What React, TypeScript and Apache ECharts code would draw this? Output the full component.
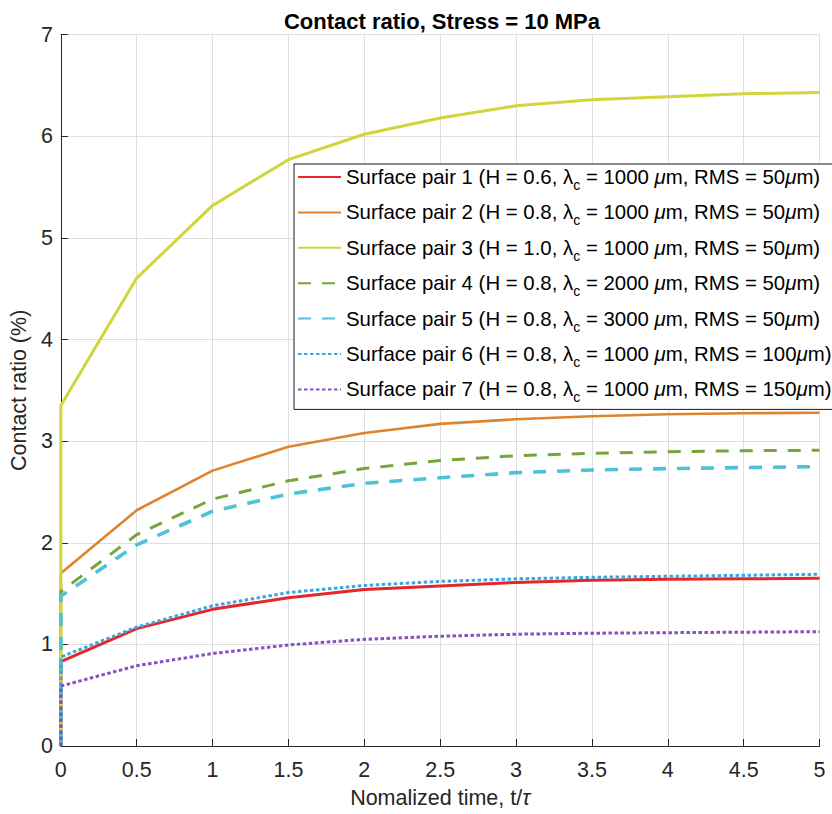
import React, { useEffect, useRef } from "react";
import * as echarts from "echarts";

// Normalized time t/τ (first sample is the initial state at t = 0 with zero contact)
const TIME = [0, 0, 0.5, 1, 1.5, 2, 2.5, 3, 3.5, 4, 4.5, 5];

const PAIR1 = [0, 0.83, 1.155, 1.345, 1.46, 1.54, 1.575, 1.61, 1.63, 1.64, 1.645, 1.65];
const PAIR2 = [0, 1.7, 2.32, 2.71, 2.945, 3.08, 3.17, 3.215, 3.245, 3.265, 3.275, 3.28];
const PAIR3 = [0, 3.35, 4.605, 5.32, 5.77, 6.02, 6.18, 6.3, 6.36, 6.39, 6.42, 6.43];
const PAIR4 = [0, 1.52, 2.08, 2.43, 2.61, 2.73, 2.81, 2.857, 2.88, 2.896, 2.906, 2.91];
const PAIR5 = [0, 1.475, 1.98, 2.31, 2.48, 2.585, 2.64, 2.69, 2.716, 2.73, 2.74, 2.75];
const PAIR6 = [0, 0.876, 1.17, 1.38, 1.51, 1.58, 1.62, 1.645, 1.66, 1.67, 1.68, 1.69];
const PAIR7 = [0, 0.59, 0.79, 0.91, 0.994, 1.05, 1.08, 1.1, 1.11, 1.115, 1.12, 1.125];

const H_VALUES = ["0.6", "0.8", "1.0", "0.8", "0.8", "0.8", "0.8"];
const LAMBDA_VALUES = ["1000", "1000", "1000", "2000", "3000", "1000", "1000"];
const RMS_VALUES = ["50", "50", "50", "50", "50", "100", "150"];

const X_TICKS_INTERVAL = 0.5;
const Y_TICKS_INTERVAL = 1;

const SERIES_VALUES = [PAIR1, PAIR2, PAIR3, PAIR4, PAIR5, PAIR6, PAIR7];
const COLORS = ["#e8262a", "#e0832e", "#d0d53a", "#76a53a", "#4cc4d6", "#3aa8df", "#8850c0"];
const LINE_TYPES: any[] = ["solid", "solid", "solid", [13, 11], [13, 11], [3.5, 2.5], [3.5, 2.5]];
const LINE_WIDTHS = [3, 2.6, 3, 3, 3.6, 3, 3];

const FONT = "'Liberation Sans', Arial, Helvetica, sans-serif";
const AXIS_FONT_SIZE = 21.5;

function plainName(i: number) {
  return `Surface pair ${i + 1} (H = ${H_VALUES[i]}, λc = ${LAMBDA_VALUES[i]} μm, RMS = ${RMS_VALUES[i]}μm)`;
}

function richName(i: number) {
  return (
    `{n|Surface pair ${i + 1} (H = ${H_VALUES[i]}, λ}{s|c}{n| = ${LAMBDA_VALUES[i]} }{u|μ}{n|m, RMS = ${RMS_VALUES[i]}}{u|μ}{n|m)}`
  );
}

export default function App() {
  const ref = useRef<HTMLDivElement>(null);

  useEffect(() => {
    if (!ref.current) return;
    const chart = echarts.init(ref.current, undefined, { renderer: "svg" });
    const names = SERIES_VALUES.map((_, i) => plainName(i));

    const option: any = {
      animation: false,
      backgroundColor: "#ffffff",
      title: {
        text: "Contact ratio, Stress = 10 MPa",
        left: 437,
        top: 5,
        textAlign: "center",
        textStyle: { fontFamily: FONT, fontSize: 22, fontWeight: "bold", color: "#000" },
      },
      grid: { left: 55.3, right: 12.5, top: 34.7, bottom: 65.3, containLabel: false },
      xAxis: {
        type: "value",
        min: 0,
        max: 5,
        interval: X_TICKS_INTERVAL,
        name: "Nomalized time, t/{i|τ}",
        nameLocation: "middle",
        nameGap: 41,
        nameTextStyle: {
          fontFamily: FONT,
          fontSize: AXIS_FONT_SIZE,
          color: "#262626",
          rich: { i: { fontFamily: FONT, fontSize: AXIS_FONT_SIZE, fontStyle: "italic", color: "#262626" } },
        },
        axisLine: { show: true, lineStyle: { color: "#262626", width: 1 } },
        axisTick: { show: true, inside: true, length: 7, lineStyle: { color: "#262626" } },
        axisLabel: { fontFamily: FONT, fontSize: AXIS_FONT_SIZE, color: "#262626", margin: 13 },
        splitLine: { show: true, lineStyle: { color: "#dedede", width: 1 } },
      },
      yAxis: {
        type: "value",
        min: 0,
        max: 7,
        interval: Y_TICKS_INTERVAL,
        name: "Contact ratio (%)",
        nameLocation: "middle",
        nameGap: 22,
        nameTextStyle: { fontFamily: FONT, fontSize: AXIS_FONT_SIZE, color: "#262626" },
        axisLine: { show: true, lineStyle: { color: "#262626", width: 1 } },
        axisTick: { show: true, inside: true, length: 7, lineStyle: { color: "#262626" } },
        axisLabel: { fontFamily: FONT, fontSize: AXIS_FONT_SIZE, color: "#262626", margin: 8 },
        splitLine: { show: true, lineStyle: { color: "#dedede", width: 1 } },
      },
      legend: {
        orient: "vertical",
        left: 294,
        top: 164,
        padding: [3, 6, 5, 3],
        itemGap: 10.4,
        itemWidth: 43,
        itemHeight: 12,
        backgroundColor: "#ffffff",
        borderColor: "#1a1a1a",
        borderWidth: 1,
        borderRadius: 0,
        itemStyle: { opacity: 0 },
        data: names,
        formatter: (name: string) => richName(names.indexOf(name)),
        textStyle: {
          color: "#000",
          fontFamily: FONT,
          fontSize: 20.4,
          rich: {
            n: { fontFamily: FONT, fontSize: 20.4, lineHeight: 30, color: "#000" },
            u: { fontFamily: FONT, fontSize: 20.4, lineHeight: 30, color: "#000", fontStyle: "italic" },
            s: { fontFamily: FONT, fontSize: 14, lineHeight: 9, color: "#000", verticalAlign: "bottom" },
          },
        },
      },
      series: SERIES_VALUES.map((vals, i) => ({
        name: names[i],
        type: "line",
        data: vals.map((v, k) => [TIME[k], v]),
        symbol: "none",
        showSymbol: false,
        smooth: false,
        color: COLORS[i],
        lineStyle: { color: COLORS[i], width: LINE_WIDTHS[i], type: LINE_TYPES[i], cap: "butt" },
        clip: true,
      })),
    };

    chart.setOption(option);
    return () => chart.dispose();
  }, []);

  return (
    <div
      ref={ref}
      style={{ position: "absolute", left: 0, top: 0, width: 832, height: 814 }}
    />
  );
}
